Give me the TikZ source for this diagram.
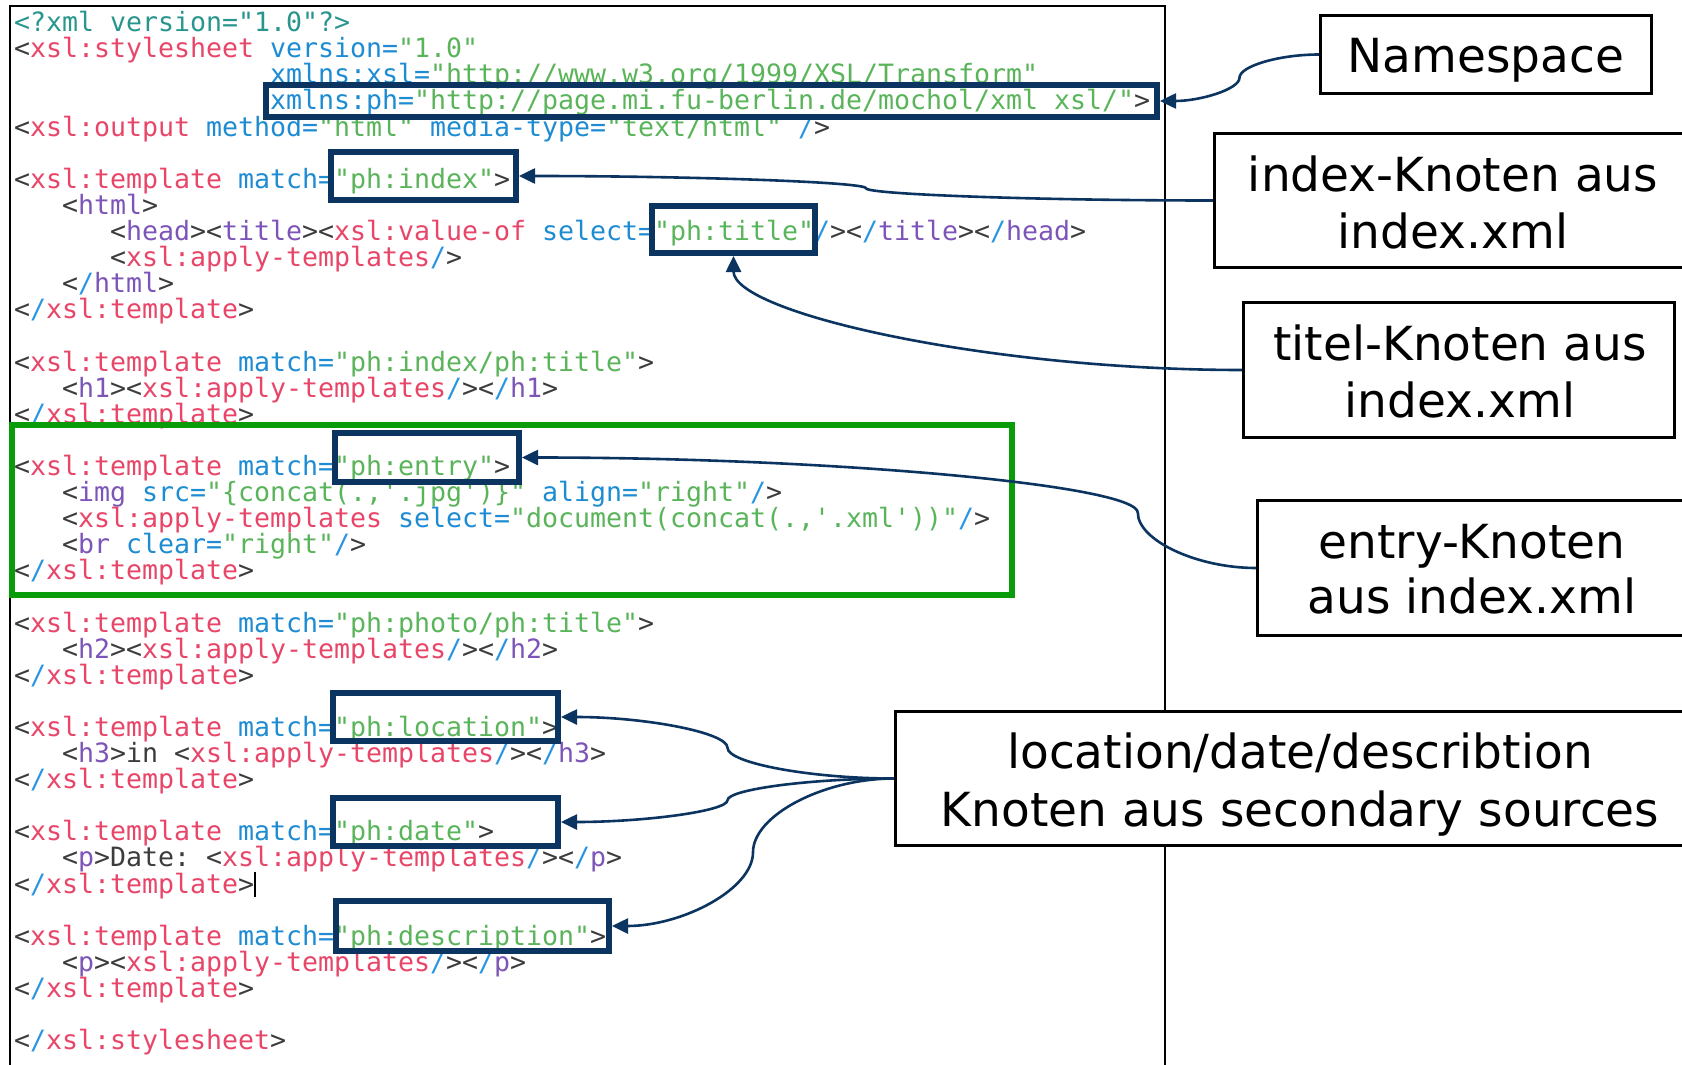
\documentclass[tikz,border=0pt]{standalone}
\usepackage{fontspec}
\setmonofont{DejaVu Sans Mono}
\newfontfamily\labelfont{DejaVu Sans}
\usetikzlibrary{arrows.meta,calc}

% syntax colours of the listing
\definecolor{ctag}{RGB}{60,60,60}
\definecolor{cxsl}{RGB}{232,70,105}
\definecolor{catt}{RGB}{30,140,210}
\definecolor{cval}{RGB}{90,180,90}
\definecolor{chtm}{RGB}{125,85,185}
\definecolor{cslash}{RGB}{40,150,225}
\definecolor{cdecl}{RGB}{40,150,140}
% markup colours
\definecolor{hlnavy}{RGB}{12,52,96}
\definecolor{boxgreen}{RGB}{10,155,10}

\newcommand\tagc[1]{\textcolor{ctag}{#1}}
\newcommand\xslc[1]{\textcolor{cxsl}{#1}}
\newcommand\attc[1]{\textcolor{catt}{#1}}
\newcommand\valc[1]{\textcolor{cval}{#1}}
\newcommand\htmc[1]{\textcolor{chtm}{#1}}
\newcommand\declc[1]{\textcolor{cdecl}{#1}}
\newcommand\slc{\textcolor{cslash}{/}}
\newcommand\closetpl{\tagc{<}\slc\xslc{xsl:template}\tagc{>}}
\newcommand\applyt{\tagc{<}\xslc{xsl:apply-templates}\slc\tagc{>}}
\newcommand\codesize{\fontsize{26.58}{26.1}\selectfont}

% one listing line: number, column of first character, content
\newcommand\codeline[3]{\node[code] (c#1) at ({14+16*#2},{31.7+(#1-1)*26.1}) {#3};}

% S-shaped connector; optional argument = relative position of the bend
\newcommand\sconn[3][0.5]{%
  \draw[conn] let \p1=(#2), \p2=(#3) in
    (\p1) .. controls ({\x1+#1*(\x2-\x1)/2},\y1)
                 and ({\x1+#1*(\x2-\x1)},{(3*\y1+\y2)/4})
          .. ({\x1+#1*(\x2-\x1)},{(\y1+\y2)/2})
          .. controls ({\x1+#1*(\x2-\x1)},{(\y1+3*\y2)/4})
                 and ({(\x1+#1*(\x2-\x1)+\x2)/2},\y2)
          .. (\p2);}

\begin{document}
\begin{tikzpicture}[x=1pt, y=-1pt,
  code/.style={anchor=base west, inner sep=0pt, outer sep=0pt, font=\codesize\ttfamily},
  hl/.style={draw=hlnavy, line width=6pt, rectangle, inner sep=0pt},
  lbl/.style={draw=black, line width=3pt, fill=white, rectangle, inner sep=0pt},
  lbltext/.style={anchor=base, inner sep=0pt, font=\labelfont\fontsize{47}{57}\selectfont},
  conn/.style={draw=hlnavy, line width=2.6pt, -{Triangle[length=16pt,width=15pt]}}]

\useasboundingbox (0,0) rectangle (1682,1065);
\fill[white] (0,0) rectangle (1682,1065);
\clip (0,0) rectangle (1682,1065);

% ---- XSLT listing ----
\codeline{1}{0}{\declc{<?xml version="1.0"?>}}
\codeline{2}{0}{\tagc{<}\xslc{xsl:stylesheet} \attc{version=}\valc{"1.0"}}
\codeline{3}{16}{\attc{xmlns:xsl=}\valc{"http://www.w3.org/1999/XSL/Transform"}}
\codeline{4}{16}{\attc{xmlns:ph=}\valc{"http://page.mi.fu-berlin.de/mochol/xml\_xsl/"}\tagc{>}}
\codeline{5}{0}{\tagc{<}\xslc{xsl:output} \attc{method=}\valc{"html"} \attc{media-type=}\valc{"text/html"} \slc\tagc{>}}
\codeline{7}{0}{\tagc{<}\xslc{xsl:template} \attc{match=}\valc{"ph:index"}\tagc{>}}
\codeline{8}{3}{\tagc{<}\htmc{html}\tagc{>}}
\codeline{9}{6}{\tagc{<}\htmc{head}\tagc{><}\htmc{title}\tagc{><}\xslc{xsl:value-of} \attc{select=}\valc{"ph:title"}\slc\tagc{><}\slc\htmc{title}\tagc{><}\slc\htmc{head}\tagc{>}}
\codeline{10}{6}{\applyt}
\codeline{11}{3}{\tagc{<}\slc\htmc{html}\tagc{>}}
\codeline{12}{0}{\closetpl}
\codeline{14}{0}{\tagc{<}\xslc{xsl:template} \attc{match=}\valc{"ph:index/ph:title"}\tagc{>}}
\codeline{15}{3}{\tagc{<}\htmc{h1}\tagc{>}\applyt\tagc{<}\slc\htmc{h1}\tagc{>}}
\codeline{16}{0}{\closetpl}
\codeline{18}{0}{\tagc{<}\xslc{xsl:template} \attc{match=}\valc{"ph:entry"}\tagc{>}}
\codeline{19}{3}{\tagc{<}\htmc{img} \attc{src=}\valc{"\{concat(.,'.jpg')\}"} \attc{align=}\valc{"right"}\slc\tagc{>}}
\codeline{20}{3}{\tagc{<}\xslc{xsl:apply-templates} \attc{select=}\valc{"document(concat(.,'.xml'))"}\slc\tagc{>}}
\codeline{21}{3}{\tagc{<}\htmc{br} \attc{clear=}\valc{"right"}\slc\tagc{>}}
\codeline{22}{0}{\closetpl}
\codeline{24}{0}{\tagc{<}\xslc{xsl:template} \attc{match=}\valc{"ph:photo/ph:title"}\tagc{>}}
\codeline{25}{3}{\tagc{<}\htmc{h2}\tagc{>}\applyt\tagc{<}\slc\htmc{h2}\tagc{>}}
\codeline{26}{0}{\closetpl}
\codeline{28}{0}{\tagc{<}\xslc{xsl:template} \attc{match=}\valc{"ph:location"}\tagc{>}}
\codeline{29}{3}{\tagc{<}\htmc{h3}\tagc{>in }\applyt\tagc{<}\slc\htmc{h3}\tagc{>}}
\codeline{30}{0}{\closetpl}
\codeline{32}{0}{\tagc{<}\xslc{xsl:template} \attc{match=}\valc{"ph:date"}\tagc{>}}
\codeline{33}{3}{\tagc{<}\htmc{p}\tagc{>Date: }\applyt\tagc{<}\slc\htmc{p}\tagc{>}}
\codeline{34}{0}{\closetpl}
\codeline{36}{0}{\tagc{<}\xslc{xsl:template} \attc{match=}\valc{"ph:description"}\tagc{>}}
\codeline{37}{3}{\tagc{<}\htmc{p}\tagc{>}\applyt\tagc{<}\slc\htmc{p}\tagc{>}}
\codeline{38}{0}{\closetpl}
\codeline{40}{0}{\tagc{<}\slc\xslc{xsl:stylesheet}\tagc{>}}

% text cursor after line 34
\draw[line width=2.5pt] (255,872) -- (255,897);

% editor frame
\draw[line width=2pt] (10,1070) -- (10,6) -- (1165,6) -- (1165,1070);

% ---- highlights ----
\node[draw=boxgreen, line width=6pt, rectangle, inner sep=0pt,
      minimum width=1000pt, minimum height=170pt] (gEntry) at (512,510) {};
\node[hl, minimum width=891pt, minimum height=32pt] (bNs)    at (711.5,101) {};
\node[hl, minimum width=185pt, minimum height=48pt] (bIndex) at (423.5,176) {};
\node[hl, minimum width=163pt, minimum height=47pt] (bTitle) at (733.5,229.5) {};
\node[hl, minimum width=184pt, minimum height=49pt] (bEntry) at (427,457.5) {};
\node[hl, minimum width=225pt, minimum height=48pt] (bLoc)   at (445.5,717) {};
\node[hl, minimum width=225pt, minimum height=48pt] (bDate)  at (445.5,822) {};
\node[hl, minimum width=273pt, minimum height=50pt] (bDesc)  at (472.5,926) {};

% ---- annotation boxes ----
\node[lbl, minimum width=331pt, minimum height=78pt]  (lNs)    at (1486,54.5) {};
\node[lbl, minimum width=477pt, minimum height=134pt] (lIndex) at (1453,200.5) {};
\node[lbl, minimum width=431pt, minimum height=135pt] (lTitel) at (1459,370) {};
\node[lbl, minimum width=429pt, minimum height=135pt] (lEntry) at (1472,568) {};
\node[lbl, minimum width=809pt, minimum height=134pt] (lLoc)   at (1300,778.5) {};

% ---- connectors ----
\sconn{lNs.west}{bNs.east}
\sconn{lIndex.west}{bIndex.east}
\draw[conn] let \p1=(lTitel.west), \p2=(bTitle.south) in
  (\p1) .. controls ({(\x1+\x2)/2},\y1) and (\x2,{(\y1+\y2)/2}) .. (\p2);
\sconn[0.161]{lEntry.west}{bEntry.east}
\sconn{lLoc.west}{bLoc.east}
\sconn{lLoc.west}{bDate.east}
\sconn{lLoc.west}{bDesc.east}

% ---- annotation texts ----
\node[lbltext] (tNs)     at (1486,73)    {Namespace};
\node[lbltext] (tIndexA) at (1453,191.7) {index-Knoten aus};
\node[lbltext] (tIndexB) at (1453,248)   {index.xml};
\node[lbltext] (tTitelA) at (1460,360)   {titel-Knoten aus};
\node[lbltext] (tTitelB) at (1460,417)   {index.xml};
\node[lbltext] (tEntryA) at (1472,558)   {entry-Knoten};
\node[lbltext] (tEntryB) at (1472,613)   {aus index.xml};
\node[lbltext] (tLocA)   at (1300,768)   {location/date/describtion};
\node[lbltext] (tLocB)   at (1300,826.7) {Knoten aus secondary sources};
\end{tikzpicture}
\end{document}
